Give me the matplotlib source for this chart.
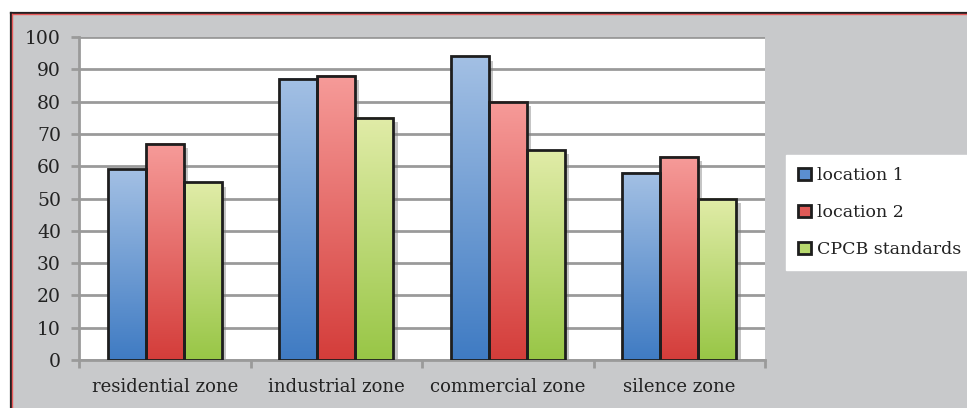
import numpy as np
import matplotlib
matplotlib.use("Agg")
import matplotlib.pyplot as plt
from matplotlib.colors import LinearSegmentedColormap
from matplotlib.patches import Rectangle, Patch
import matplotlib.patheffects as pe

categories = ["residential zone", "industrial zone", "commercial zone", "silence zone"]
series_names = ["location 1", "location 2", "CPCB standards"]
location1 = [59, 87, 94, 58]
location2 = [67, 88, 80, 63]
cpcb = [55, 75, 65, 50]
yticks = [0, 10, 20, 30, 40, 50, 60, 70, 80, 90, 100]

series = [location1, location2, cpcb]
grad_colors = [("#a3c0e4", "#3f7bc3"), ("#f69b99", "#d43d3a"), ("#e1eca8", "#98c646")]
mid_colors = ["#5b8fd0", "#e05a57", "#b8d96e"]

plt.rcParams['font.family'] = ['DejaVu Serif']
W, H = 967, 408
fig = plt.figure(figsize=(W/100, H/100), dpi=100)
fig.patch.set_facecolor("white")

# outer grey panel with dark/red border on top and left
fig.patches.append(Rectangle((10/W, 0), 1, 1 - 12/H, transform=fig.transFigure,
                             facecolor="#c8c9cb", edgecolor="none", zorder=-5))
fig.add_artist(plt.Line2D([10.5/W, 1], [1 - 12.5/H, 1 - 12.5/H], transform=fig.transFigure, color="#231f20", lw=1.6, zorder=-4))
fig.add_artist(plt.Line2D([12/W, 1], [1 - 14.2/H, 1 - 14.2/H], transform=fig.transFigure, color="#e8595a", lw=1.0, zorder=-4))
fig.add_artist(plt.Line2D([10.5/W, 10.5/W], [0, 1 - 12.5/H], transform=fig.transFigure, color="#231f20", lw=1.6, zorder=-4))
fig.add_artist(plt.Line2D([12.2/W, 12.2/W], [0, 1 - 14.2/H], transform=fig.transFigure, color="#e8595a", lw=1.0, zorder=-4))

ax = fig.add_axes([79/W, 1 - 360/H, (765 - 79)/W, (360 - 37)/H])
ax.set_facecolor("white")
n = len(categories)
x = np.arange(n)
bw = 0.222

for i, (vals, (ctop, cbot)) in enumerate(zip(series, grad_colors)):
    cmap = LinearSegmentedColormap.from_list(f"g{i}", [cbot, ctop])
    for j, v in enumerate(vals):
        x0 = x[j] + (i - 1) * bw - bw / 2
        ax.add_patch(Rectangle((x0, 0), bw, v, facecolor="#999999", edgecolor="none", zorder=2,
                               path_effects=[pe.SimplePatchShadow(offset=(3, -3), shadow_rgbFace="#7f7f7f", alpha=0.45)]))
        ax.imshow(np.linspace(1, 0, 256).reshape(-1, 1), extent=[x0, x0 + bw, 0, v], aspect="auto",
                  cmap=cmap, vmin=0, vmax=1, zorder=3, interpolation="bilinear")
        ax.add_patch(Rectangle((x0, 0), bw, v, facecolor="none", edgecolor="#1e1e1e", lw=2.0, zorder=4))

ax.set_xlim(-0.5, n - 0.5)
ax.set_ylim(0, 100)
ax.set_yticks(yticks)
ax.set_yticklabels([str(t) for t in yticks])
ax.yaxis.grid(True, color="#9a9a9a", lw=2)
ax.set_axisbelow(True)
ax.set_xticks(np.arange(-0.5, n, 1.0))
ax.set_xticklabels([])
ax.set_xticks(x, minor=True)
ax.set_xticklabels(categories, minor=True)
ax.tick_params(axis="x", which="minor", length=0, pad=13, labelsize=13, colors="#222222")
ax.tick_params(axis="x", which="major", length=6, width=2, color="#9a9a9a")
ax.tick_params(axis="y", length=6, width=2, color="#9a9a9a", labelsize=13.5, labelcolor="#222222", pad=7)
for s in ["top", "right"]:
    ax.spines[s].set_visible(False)
for s in ["left", "bottom"]:
    ax.spines[s].set_color("#9a9a9a")
    ax.spines[s].set_linewidth(2)

handles = [Patch(facecolor=c, edgecolor="#1e1e1e", lw=2) for c in mid_colors]
leg = fig.legend(handles, series_names, loc="upper left", bbox_to_anchor=(786/W, 1 - 155/H),
                 frameon=True, fontsize=12.5, handlelength=0.75, handleheight=0.75, handletextpad=0.35,
                 labelspacing=1.15, borderpad=0.7, borderaxespad=0, fancybox=False, framealpha=1)
leg.get_frame().set_facecolor("white")
leg.get_frame().set_edgecolor("white")
for t in leg.get_texts():
    t.set_color("#222222")

fig.savefig("out.png", dpi=100)
